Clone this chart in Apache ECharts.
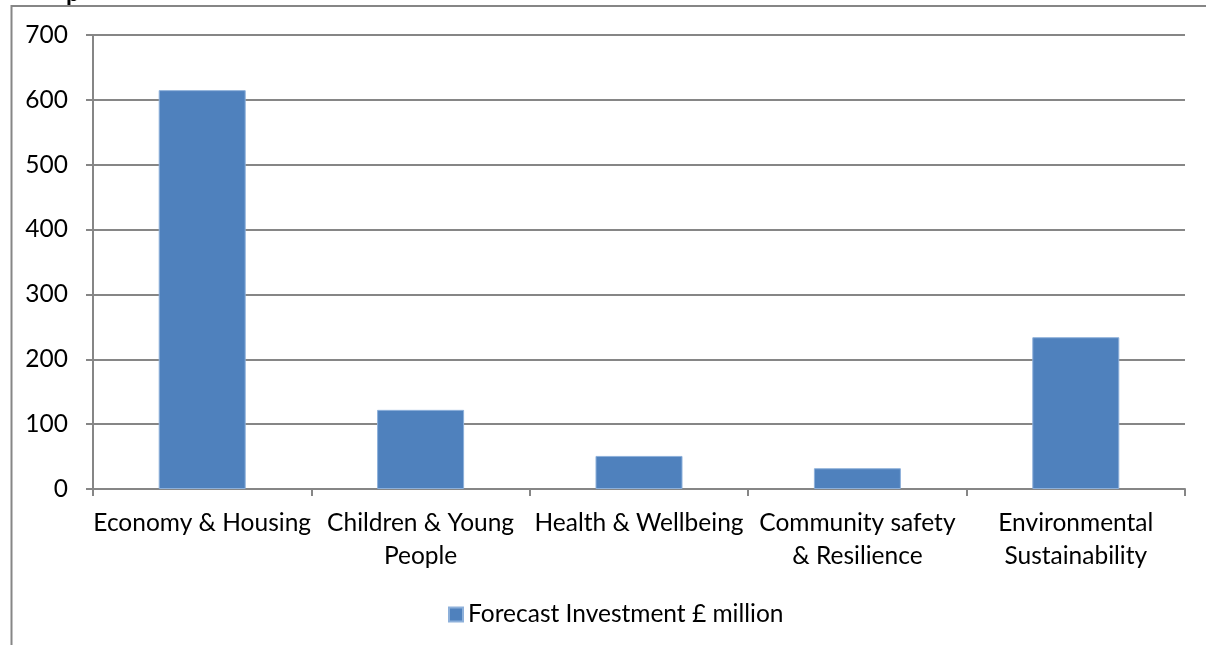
<!DOCTYPE html>
<html>
<head>
<meta charset="utf-8">
<script src="https://cdn.jsdelivr.net/npm/echarts@6/dist/echarts.min.js"></script>
<style>html,body{margin:0;padding:0;background:#fff;}#c{width:1206px;height:645px;}</style>
</head>
<body>
<div id="c"></div>
<script>
var categories = ['Economy & Housing', 'Children & Young\nPeople', 'Health & Wellbeing', 'Community safety\n& Resilience', 'Environmental\nSustainability'];
var seriesName = 'Forecast Investment £ million';
var values = [615, 122, 51, 32, 234];
var yTicks = { min: 0, max: 700, interval: 100 };

var FONT = 'Lato';
var FS = 24.5;
var chart = echarts.init(document.getElementById('c'), null, { renderer: 'canvas' });
chart.setOption({
  animation: false,
  backgroundColor: '#fff',
  graphic: [
    { type: 'rect', shape: { x: 11.5, y: 6, width: 1300, height: 700 }, style: { fill: 'none', stroke: '#868686', lineWidth: 2 }, z: 0 },
    { type: 'text', left: 66, top: -19, style: { text: 'p', font: 'bold 24px ' + FONT, fill: '#000' } }
  ],
  grid: { left: 93, right: 21, top: 35, bottom: 156, containLabel: false },
  legend: {
    left: 443, top: 597,
    icon: 'rect', itemWidth: 14, itemHeight: 14,
    textStyle: { fontFamily: FONT, fontSize: FS, color: '#000' },
    data: [seriesName]
  },
  xAxis: {
    type: 'category',
    data: categories,
    axisLine: { lineStyle: { color: '#868686', width: 2 } },
    axisTick: { show: true, length: 7, lineStyle: { color: '#868686', width: 2 } },
    axisLabel: { color: '#000', fontFamily: FONT, fontSize: FS, lineHeight: 33, margin: 18, interval: 0 }
  },
  yAxis: {
    type: 'value',
    min: yTicks.min, max: yTicks.max, interval: yTicks.interval,
    axisLine: { show: true, lineStyle: { color: '#868686', width: 2 } },
    axisTick: { show: true, length: 7, lineStyle: { color: '#868686', width: 2 } },
    splitLine: { lineStyle: { color: '#868686', width: 2 } },
    axisLabel: { color: '#000', fontFamily: FONT, fontSize: FS, margin: 25 }
  },
  series: [{
    name: seriesName,
    type: 'bar',
    data: values,
    barWidth: 87,
    itemStyle: { color: '#4F81BD', borderColor: '#8DB0DA', borderWidth: 1 }
  }]
});
</script>
</body>
</html>
